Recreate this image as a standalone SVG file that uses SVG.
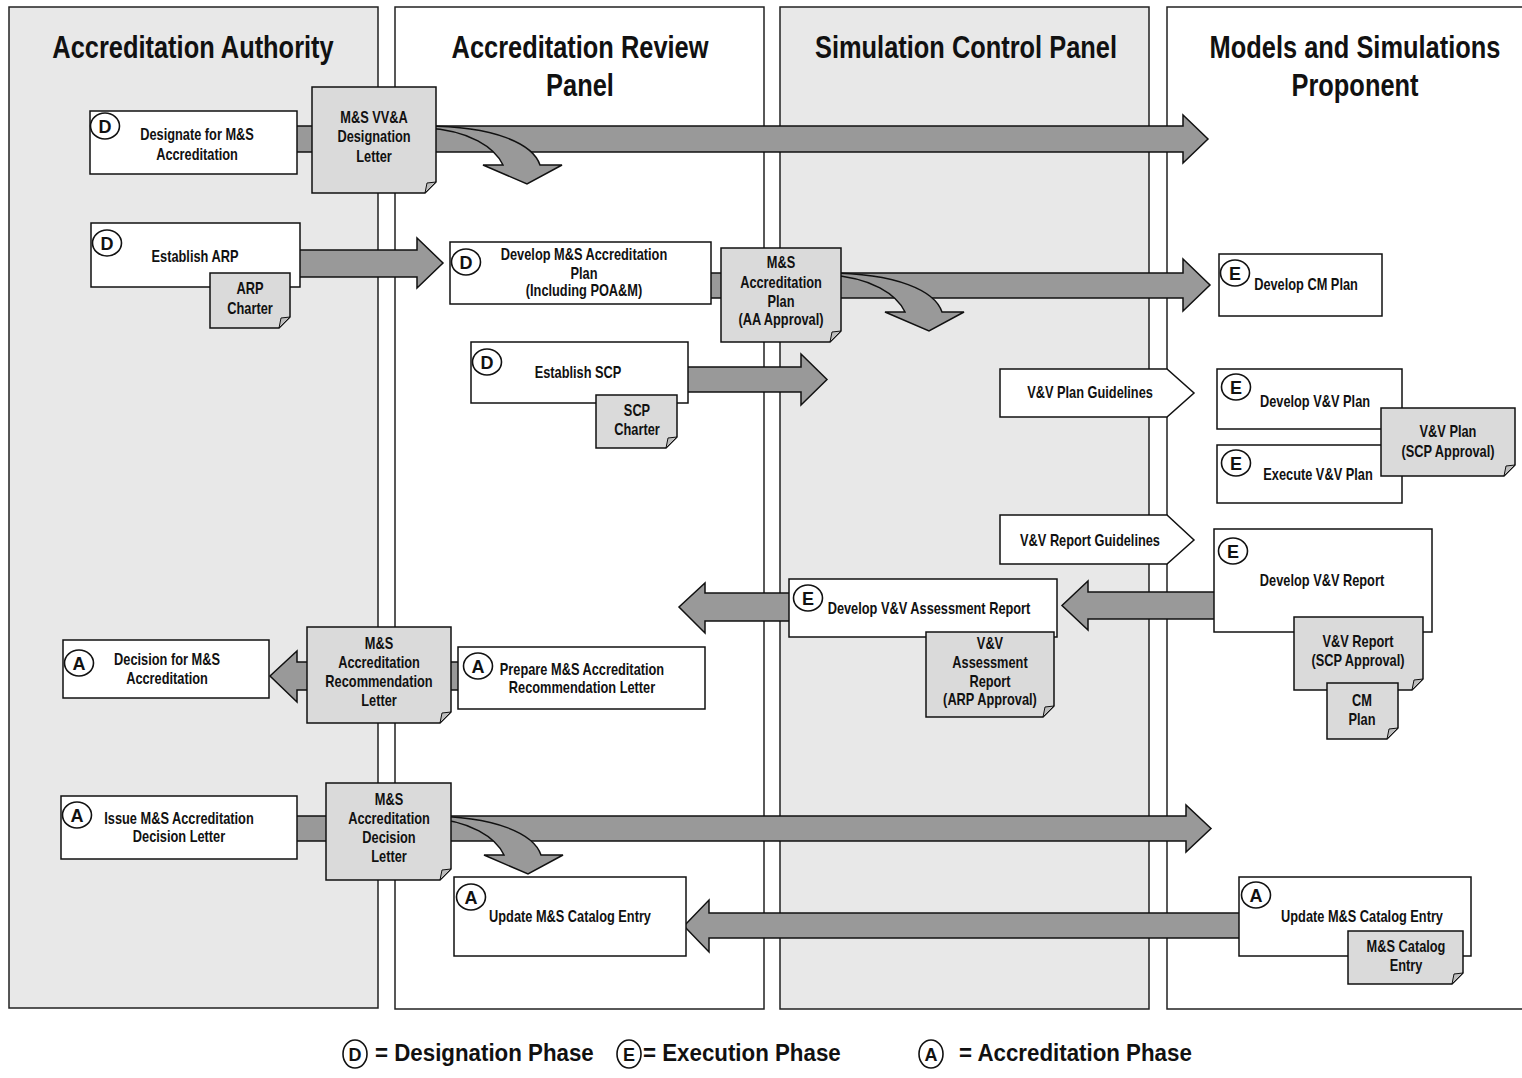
<svg xmlns="http://www.w3.org/2000/svg" xmlns:xlink="http://www.w3.org/1999/xlink" width="1522" height="1078" viewBox="0 0 1522 1078">
<style>
.lg{fill:#e8e8e8;stroke:#222;stroke-width:1.5}
.lw{fill:#fff;stroke:#222;stroke-width:1.5}
.box{fill:#fff;stroke:#111;stroke-width:1.5}
.doc{fill:#dadada;stroke:#111;stroke-width:1.5}
.fold{fill:#bdbdbd;stroke:#111;stroke-width:1}
.arr{fill:#999;stroke:#111;stroke-width:1.5}
.pc{fill:#fff;stroke:#111;stroke-width:1.6}
.pl{font-family:"Liberation Sans",Arial,sans-serif;font-weight:bold;font-size:18px;text-anchor:middle;fill:#111}
.t{font-family:"Liberation Sans",Arial,sans-serif;font-weight:bold;font-size:16px;text-anchor:middle;fill:#111}
.ti{font-family:"Liberation Sans",Arial,sans-serif;font-weight:bold;font-size:31px;text-anchor:middle;fill:#111}
.lt{font-family:"Liberation Sans",Arial,sans-serif;font-weight:bold;font-size:24px;fill:#111}
</style>
<defs>
<path id="curv" d="M -10 0 C 60 0, 98 18, 105 39 L 127 39 L 92 58 L 48 39 L 68 39 C 60 22, 35 4, -10 2 Z"/>
</defs>

<g id="lanes">
<rect class="lg" x="9" y="7" width="369" height="1001"/>
<rect class="lw" x="395" y="7" width="369" height="1002"/>
<rect class="lg" x="780" y="7" width="369" height="1002"/>
<rect class="lw" x="1167" y="7" width="370" height="1002"/>
<text class="ti" transform="translate(193 0) scale(0.82 1)"><tspan x="0" y="58">Accreditation Authority</tspan></text>
<text class="ti" transform="translate(580 0) scale(0.82 1)"><tspan x="0" y="58">Accreditation Review</tspan><tspan x="0" y="96">Panel</tspan></text>
<text class="ti" transform="translate(966 0) scale(0.82 1)"><tspan x="0" y="58">Simulation Control Panel</tspan></text>
<text class="ti" transform="translate(1355 0) scale(0.82 1)"><tspan x="0" y="58">Models and Simulations</tspan><tspan x="0" y="96">Proponent</tspan></text>
</g>

<g id="connectors">
<polygon class="arr" points="290,126 1183,126 1183,115 1208,139 1183,163 1183,152 290,152"/>
<polygon class="arr" points="292,250 417,250 417,238 443,263 417,288 417,277 292,277"/>
<polygon class="arr" points="700,273 1183,273 1183,259 1210,285 1183,311 1183,298 700,298"/>
<polygon class="arr" points="680,367 801,367 801,354 827,379.5 801,405 801,392 680,392"/>
<polygon class="arr" points="1222,592 1088,592 1088,581 1062,605.5 1088,630 1088,619 1222,619"/>
<polygon class="arr" points="797,593 705,593 705,583 679,607 705,633 705,621 797,621"/>
<polygon class="arr" points="466,662 297,662 297,651 270,676 297,702 297,690 466,690"/>
<polygon class="arr" points="290,816 1186,816 1186,805 1211,828.5 1186,852 1186,841 290,841"/>
<polygon class="arr" points="1247,913 709,913 709,900 684,926 709,952 709,938 1247,938"/>
<use xlink:href="#curv" href="#curv" class="arr" transform="translate(435 126)"/>
<use xlink:href="#curv" href="#curv" class="arr" transform="translate(837 273)"/>
<use xlink:href="#curv" href="#curv" class="arr" transform="translate(436 816)"/>
</g>

<g id="n-designate">
<rect class="box" x="90" y="111" width="207" height="63"/>
<ellipse class="pc" cx="105" cy="126" rx="14.5" ry="13"/><text class="pl" x="105" y="132.5">D</text>
<text class="t" transform="translate(197 0) scale(0.8 1)"><tspan x="0" y="140">Designate for M&amp;S</tspan><tspan x="0" y="160">Accreditation</tspan></text>
</g>
<g id="d-vvaletter">
<path class="doc" d="M312 87 H436 V182 L425 193 H312 Z"/><path class="fold" d="M425 193 L427 183 L436 182 Z"/>
<text class="t" transform="translate(374 0) scale(0.8 1)"><tspan x="0" y="123">M&amp;S VV&amp;A</tspan><tspan x="0" y="142">Designation</tspan><tspan x="0" y="162">Letter</tspan></text>
</g>

<g id="n-establish-arp">
<rect class="box" x="91" y="223" width="209" height="64"/>
<ellipse class="pc" cx="107" cy="243" rx="14.5" ry="13"/><text class="pl" x="107" y="249.5">D</text>
<text class="t" transform="translate(195 0) scale(0.8 1)"><tspan x="0" y="262">Establish ARP</tspan></text>
</g>
<g id="d-arp-charter">
<path class="doc" d="M210 273 H290 V317 L279 328 H210 Z"/><path class="fold" d="M279 328 L281 318 L290 317 Z"/>
<text class="t" transform="translate(250 0) scale(0.8 1)"><tspan x="0" y="294">ARP</tspan><tspan x="0" y="314">Charter</tspan></text>
</g>

<g id="n-develop-acc-plan">
<rect class="box" x="450" y="242" width="261" height="62"/>
<ellipse class="pc" cx="466" cy="262" rx="14.5" ry="13"/><text class="pl" x="466" y="268.5">D</text>
<text class="t" transform="translate(584 0) scale(0.8 1)"><tspan x="0" y="260">Develop M&amp;S Accreditation</tspan><tspan x="0" y="279">Plan</tspan><tspan x="0" y="296">(Including POA&amp;M)</tspan></text>
</g>
<g id="d-acc-plan">
<path class="doc" d="M721 248 H841 V331 L830 342 H721 Z"/><path class="fold" d="M830 342 L832 332 L841 331 Z"/>
<text class="t" transform="translate(781 0) scale(0.8 1)"><tspan x="0" y="268">M&amp;S</tspan><tspan x="0" y="288">Accreditation</tspan><tspan x="0" y="307">Plan</tspan><tspan x="0" y="325">(AA Approval)</tspan></text>
</g>

<g id="n-establish-scp">
<rect class="box" x="471" y="342" width="217" height="61"/>
<ellipse class="pc" cx="487" cy="362" rx="14.5" ry="13"/><text class="pl" x="487" y="368.5">D</text>
<text class="t" transform="translate(578 0) scale(0.8 1)"><tspan x="0" y="378">Establish SCP</tspan></text>
</g>
<g id="d-scp-charter">
<path class="doc" d="M596 395 H677 V437 L666 448 H596 Z"/><path class="fold" d="M666 448 L668 438 L677 437 Z"/>
<text class="t" transform="translate(637 0) scale(0.8 1)"><tspan x="0" y="416">SCP</tspan><tspan x="0" y="435">Charter</tspan></text>
</g>

<g id="n-develop-cm-plan">
<rect class="box" x="1219" y="254" width="163" height="62"/>
<ellipse class="pc" cx="1235" cy="273" rx="14.5" ry="13"/><text class="pl" x="1235" y="279.5">E</text>
<text class="t" transform="translate(1306 0) scale(0.8 1)"><tspan x="0" y="290">Develop CM Plan</tspan></text>
</g>

<g id="n-vv-plan-guidelines">
<polygon class="box" points="1000,369 1167,369 1194,393 1167,417 1000,417"/>
<text class="t" transform="translate(1090 0) scale(0.8 1)"><tspan x="0" y="398">V&amp;V Plan Guidelines</tspan></text>
</g>

<g id="n-develop-vv-plan">
<rect class="box" x="1217" y="369" width="185" height="60"/>
<ellipse class="pc" cx="1236" cy="387" rx="14.5" ry="13"/><text class="pl" x="1236" y="393.5">E</text>
<text class="t" transform="translate(1315 0) scale(0.8 1)"><tspan x="0" y="407">Develop V&amp;V Plan</tspan></text>
</g>
<g id="n-execute-vv-plan">
<rect class="box" x="1217" y="445" width="185" height="58"/>
<ellipse class="pc" cx="1236" cy="463" rx="14.5" ry="13"/><text class="pl" x="1236" y="469.5">E</text>
<text class="t" transform="translate(1318 0) scale(0.8 1)"><tspan x="0" y="480">Execute V&amp;V Plan</tspan></text>
</g>
<g id="d-vv-plan">
<path class="doc" d="M1381 408 H1515 V465 L1504 476 H1381 Z"/><path class="fold" d="M1504 476 L1506 466 L1515 465 Z"/>
<text class="t" transform="translate(1448 0) scale(0.8 1)"><tspan x="0" y="437">V&amp;V Plan</tspan><tspan x="0" y="457">(SCP Approval)</tspan></text>
</g>

<g id="n-vv-report-guidelines">
<polygon class="box" points="1000,515 1167,515 1194,540 1167,564 1000,564"/>
<text class="t" transform="translate(1090 0) scale(0.8 1)"><tspan x="0" y="546">V&amp;V Report Guidelines</tspan></text>
</g>

<g id="n-develop-vv-report">
<rect class="box" x="1214" y="529" width="218" height="103"/>
<ellipse class="pc" cx="1233" cy="551" rx="14.5" ry="13"/><text class="pl" x="1233" y="557.5">E</text>
<text class="t" transform="translate(1322 0) scale(0.8 1)"><tspan x="0" y="586">Develop V&amp;V Report</tspan></text>
</g>
<g id="d-vv-report">
<path class="doc" d="M1294 617 H1423 V679 L1412 690 H1294 Z"/><path class="fold" d="M1412 690 L1414 680 L1423 679 Z"/>
<text class="t" transform="translate(1358 0) scale(0.8 1)"><tspan x="0" y="647">V&amp;V Report</tspan><tspan x="0" y="666">(SCP Approval)</tspan></text>
</g>
<g id="d-cm-plan">
<path class="doc" d="M1327 683 H1398 V728 L1387 739 H1327 Z"/><path class="fold" d="M1387 739 L1389 729 L1398 728 Z"/>
<text class="t" transform="translate(1362 0) scale(0.8 1)"><tspan x="0" y="706">CM</tspan><tspan x="0" y="725">Plan</tspan></text>
</g>

<g id="n-develop-assessment">
<rect class="box" x="789" y="579" width="268" height="58"/>
<ellipse class="pc" cx="808" cy="598" rx="14.5" ry="13"/><text class="pl" x="808" y="604.5">E</text>
<text class="t" transform="translate(929 0) scale(0.8 1)"><tspan x="0" y="614">Develop V&amp;V Assessment Report</tspan></text>
</g>
<g id="d-assessment">
<path class="doc" d="M926 632 H1054 V706 L1043 717 H926 Z"/><path class="fold" d="M1043 717 L1045 707 L1054 706 Z"/>
<text class="t" transform="translate(990 0) scale(0.8 1)"><tspan x="0" y="649">V&amp;V</tspan><tspan x="0" y="668">Assessment</tspan><tspan x="0" y="687">Report</tspan><tspan x="0" y="705">(ARP Approval)</tspan></text>
</g>

<g id="n-decision">
<rect class="box" x="63" y="640" width="206" height="58"/>
<ellipse class="pc" cx="79" cy="663" rx="14.5" ry="13"/><text class="pl" x="79" y="669.5">A</text>
<text class="t" transform="translate(167 0) scale(0.8 1)"><tspan x="0" y="665">Decision for M&amp;S</tspan><tspan x="0" y="684">Accreditation</tspan></text>
</g>
<g id="n-prepare">
<rect class="box" x="458" y="647" width="247" height="62"/>
<ellipse class="pc" cx="478" cy="666" rx="14.5" ry="13"/><text class="pl" x="478" y="672.5">A</text>
<text class="t" transform="translate(582 0) scale(0.8 1)"><tspan x="0" y="675">Prepare M&amp;S Accreditation</tspan><tspan x="0" y="693">Recommendation Letter</tspan></text>
</g>
<g id="d-recommendation">
<path class="doc" d="M307 627 H451 V712 L440 723 H307 Z"/><path class="fold" d="M440 723 L442 713 L451 712 Z"/>
<text class="t" transform="translate(379 0) scale(0.8 1)"><tspan x="0" y="649">M&amp;S</tspan><tspan x="0" y="668">Accreditation</tspan><tspan x="0" y="687">Recommendation</tspan><tspan x="0" y="706">Letter</tspan></text>
</g>

<g id="n-issue">
<rect class="box" x="61" y="796" width="236" height="63"/>
<ellipse class="pc" cx="77" cy="815" rx="14.5" ry="13"/><text class="pl" x="77" y="821.5">A</text>
<text class="t" transform="translate(179 0) scale(0.8 1)"><tspan x="0" y="824">Issue M&amp;S Accreditation</tspan><tspan x="0" y="842">Decision Letter</tspan></text>
</g>
<g id="d-decision-letter">
<path class="doc" d="M326 783 H451 V869 L440 880 H326 Z"/><path class="fold" d="M440 880 L442 870 L451 869 Z"/>
<text class="t" transform="translate(389 0) scale(0.8 1)"><tspan x="0" y="805">M&amp;S</tspan><tspan x="0" y="824">Accreditation</tspan><tspan x="0" y="843">Decision</tspan><tspan x="0" y="862">Letter</tspan></text>
</g>

<g id="n-update-left">
<rect class="box" x="454" y="877" width="232" height="79"/>
<ellipse class="pc" cx="471" cy="897" rx="14.5" ry="13"/><text class="pl" x="471" y="903.5">A</text>
<text class="t" transform="translate(570 0) scale(0.8 1)"><tspan x="0" y="922">Update M&amp;S Catalog Entry</tspan></text>
</g>
<g id="n-update-right">
<rect class="box" x="1239" y="877" width="232" height="79"/>
<ellipse class="pc" cx="1256" cy="895" rx="14.5" ry="13"/><text class="pl" x="1256" y="901.5">A</text>
<text class="t" transform="translate(1362 0) scale(0.8 1)"><tspan x="0" y="922">Update M&amp;S Catalog Entry</tspan></text>
</g>
<g id="d-catalog-entry">
<path class="doc" d="M1348 931 H1463 V973 L1452 984 H1348 Z"/><path class="fold" d="M1452 984 L1454 974 L1463 973 Z"/>
<text class="t" transform="translate(1406 0) scale(0.8 1)"><tspan x="0" y="952">M&amp;S Catalog</tspan><tspan x="0" y="971">Entry</tspan></text>
</g>

<g id="legend">
<ellipse class="pc" cx="355" cy="1054" rx="12" ry="14"/><text class="pl" x="355" y="1061">D</text>
<text class="lt" transform="translate(375 0) scale(0.93 1)"><tspan x="0" y="1061">= Designation Phase</tspan></text>
<ellipse class="pc" cx="629" cy="1054" rx="12" ry="14"/><text class="pl" x="629" y="1061">E</text>
<text class="lt" transform="translate(643 0) scale(0.93 1)"><tspan x="0" y="1061">= Execution Phase</tspan></text>
<ellipse class="pc" cx="931" cy="1054" rx="12" ry="14"/><text class="pl" x="931" y="1061">A</text>
<text class="lt" transform="translate(959 0) scale(0.93 1)"><tspan x="0" y="1061">= Accreditation Phase</tspan></text>
</g>
</svg>
